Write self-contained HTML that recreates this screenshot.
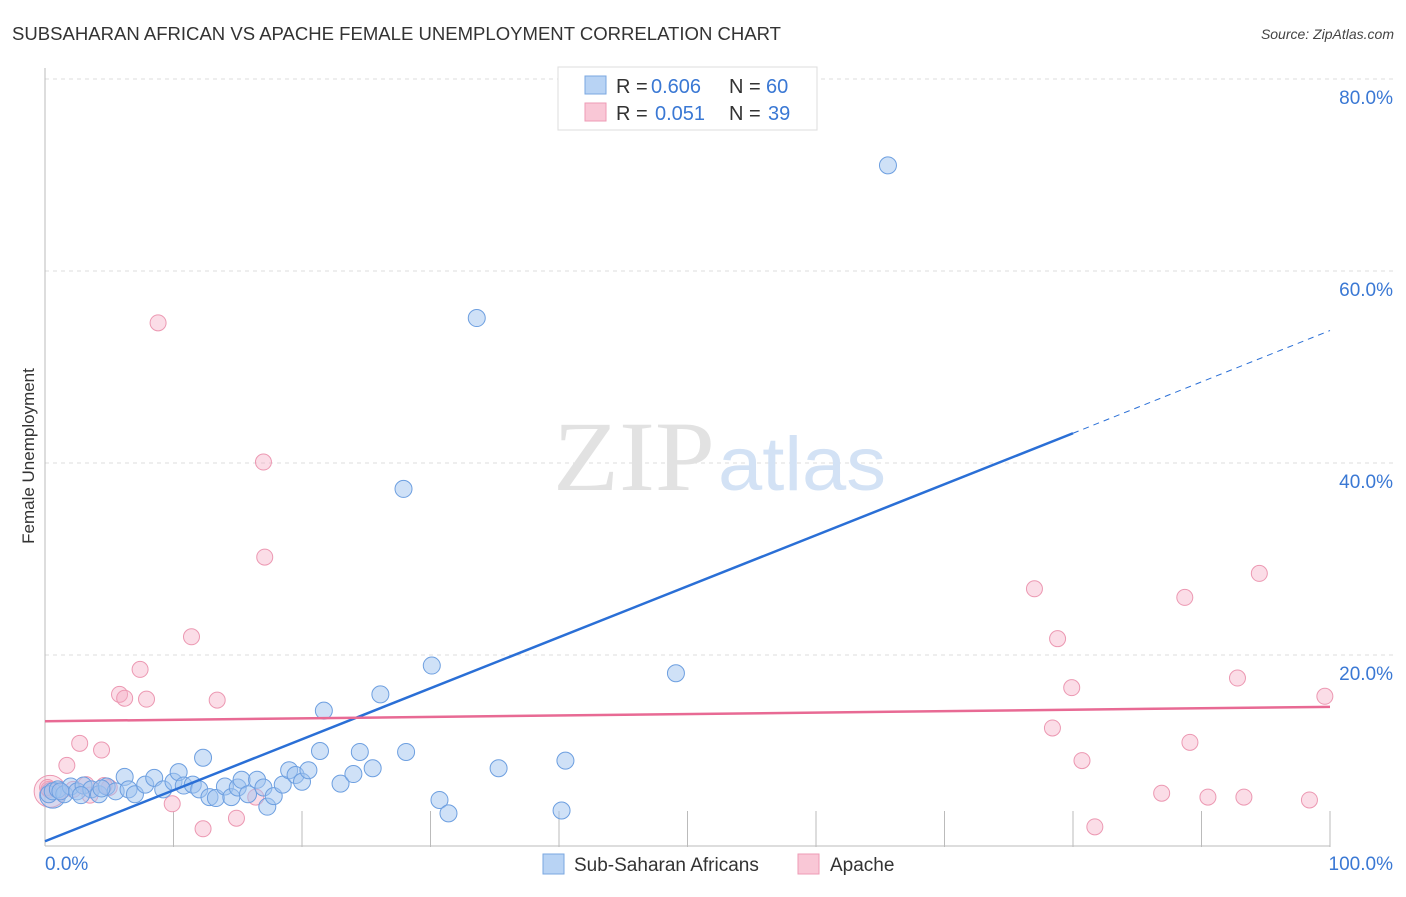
<!DOCTYPE html>
<html><head><meta charset="utf-8"><style>
body{margin:0;background:#fff;font-family:"Liberation Sans",sans-serif;}
svg text{font-family:"Liberation Sans",sans-serif;}
</style></head><body>
<svg width="1406" height="892" xmlns="http://www.w3.org/2000/svg">
<text x="12" y="40" font-size="18" fill="#333" textLength="769" lengthAdjust="spacingAndGlyphs">SUBSAHARAN AFRICAN VS APACHE FEMALE UNEMPLOYMENT CORRELATION CHART</text>
<text x="1394" y="39" font-size="14" font-style="italic" fill="#444" text-anchor="end">Source: ZipAtlas.com</text>
<g id="grid"></g>
<text x="553" y="490" font-size="100" fill="#e2e2e2" style="font-family:'Liberation Serif',serif" textLength="162" lengthAdjust="spacingAndGlyphs">ZIP</text>
<text x="718" y="490" font-size="76" fill="#d3e2f5" textLength="168" lengthAdjust="spacingAndGlyphs">atlas</text>
<line x1="45" y1="68" x2="45" y2="846" stroke="#bbb"/>
<line x1="45" y1="846" x2="1330" y2="846" stroke="#bbb"/>
<g id="xticks"></g>
<text x="34" y="456" font-size="17" fill="#333" transform="rotate(-90 34 456)" text-anchor="middle">Female Unemployment</text>
<text x="45" y="870" font-size="19" fill="#3a78d4">0.0%</text>
<text x="1393" y="870" font-size="19" fill="#3a78d4" text-anchor="end">100.0%</text>
<g id="pts"></g>
<g id="trends"></g>
<g>
<rect x="558" y="67" width="259" height="63" fill="#fff" stroke="#ddd"/>
<rect x="585" y="76" width="21" height="18" fill="#b8d3f4" stroke="#7aa7e0"/>
<rect x="585" y="103" width="21" height="18" fill="#f9c7d6" stroke="#ee9bb5"/>
<text x="616" y="93" font-size="20" fill="#333">R =</text>
<text x="651" y="93" font-size="20" fill="#3a78d4">0.606</text>
<text x="729" y="93" font-size="20" fill="#333">N =</text>
<text x="766" y="93" font-size="20" fill="#3a78d4">60</text>
<text x="616" y="120" font-size="20" fill="#333">R =</text>
<text x="655" y="120" font-size="20" fill="#3a78d4">0.051</text>
<text x="729" y="120" font-size="20" fill="#333">N =</text>
<text x="768" y="120" font-size="20" fill="#3a78d4">39</text>
</g>
<g>
<rect x="543" y="854" width="21" height="20" fill="#b8d3f4" stroke="#7aa7e0"/>
<text x="574" y="871" font-size="19" fill="#333">Sub-Saharan Africans</text>
<rect x="798" y="854" width="21" height="20" fill="#f9c7d6" stroke="#ee9bb5"/>
<text x="830" y="871" font-size="19" fill="#333">Apache</text>
</g>
</svg>
<script>
const yTicks=[20,40,60,80];
const yTickLabels=["20.0%","40.0%","60.0%","80.0%"];
const xTicks=[10,20,30,40,50,60,70,80,90,100];
const blueX=[65.6,33.6,27.9,30.1,49.1,26.1,21.7,28.1,24.5,21.4,40.5,35.3,25.5,12.3,30.7,31.4,40.2,0.3,0.6,1.0,1.5,2.0,2.5,3.0,3.6,4.2,4.8,5.5,6.2,6.5,7.0,7.8,8.5,9.2,10.0,10.4,10.8,11.5,12.0,12.8,13.3,14.0,14.5,15.0,15.3,15.8,16.5,17.0,17.3,17.8,18.5,19.0,19.5,20.0,20.5,23.0,24.0,1.2,2.8,4.4];
const blueY=[71,55.1,37.3,18.9,18.1,15.9,14.2,9.9,9.9,10,9,8.2,8.2,9.3,4.9,3.5,3.8,5.5,5.8,6,5.5,6.3,5.8,6.4,6,5.5,6.3,5.8,7.3,6,5.5,6.5,7.2,6,6.8,7.8,6.4,6.5,6,5.2,5.1,6.3,5.2,6.2,7,5.5,7,6.2,4.2,5.3,6.5,8,7.5,6.8,8,6.6,7.6,5.8,5.4,6.1];
const pinkX=[8.8,17,17.1,11.4,7.4,5.8,6.2,7.9,13.4,2.7,4.4,1.7,9.9,12.3,14.9,77,78.8,79.9,78.4,80.7,81.7,88.7,94.5,92.8,89.1,86.9,90.5,93.3,98.4,99.6,0.3,3.5,5,3.2,1.2,0.2,4.6,16.4,2.2];
const pinkY=[54.6,40.1,30.2,21.9,18.5,15.9,15.5,15.4,15.3,10.8,10.1,8.5,4.5,1.9,3,26.9,21.7,16.6,12.4,9,2.1,26,28.5,17.6,10.9,5.6,5.2,5.2,4.9,15.7,6,5.4,6.2,6.5,5.8,6.2,6.4,5.2,6];
const L=45,R=1330,T=79,B=847;
const sx=v=>L+(R-L)*v/100, sy=v=>B-(B-T)*v/80;
const NS='http://www.w3.org/2000/svg';
function mk(tag,a,parent){const e=document.createElementNS(NS,tag);for(const k in a)e.setAttribute(k,a[k]);document.getElementById(parent).appendChild(e);return e;}
yTicks.forEach((t,i)=>{
 const l=mk('line',{x1:L,x2:1395,y1:sy(t),y2:sy(t),stroke:'#ddd','stroke-dasharray':'4,4'},'grid');
 
 
 const tx=mk('text',{x:1393,y:sy(t)+25,'font-size':19,fill:'#3a78d4','text-anchor':'end'},'grid');
 tx.textContent=yTickLabels[i];
 
 
});
xTicks.forEach(t=>{
 const l=mk('line',{x1:sx(t),x2:sx(t),y1:B-36,y2:B,stroke:'#bbb'},'xticks');
 
 
});
let big=mk('circle',{cx:sx(0.4),cy:sy(5.8),r:16,fill:'rgba(246,170,195,0.3)',stroke:'#ec98b2','stroke-width':1},'pts');


big=mk('circle',{cx:sx(0.6),cy:sy(5.4),r:13,fill:'rgba(160,195,240,0.4)',stroke:'#6d9fe0','stroke-width':1},'pts');


pinkX.forEach((x,i)=>{
 const c=mk('circle',{cx:sx(x),cy:sy(pinkY[i]),r:8,fill:'rgba(246,170,195,0.4)',stroke:'#ec98b2','stroke-width':1},'pts');
 
 
});
blueX.forEach((x,i)=>{
 const c=mk('circle',{cx:sx(x),cy:sy(blueY[i]),r:8.5,fill:'rgba(160,195,240,0.5)',stroke:'#6d9fe0','stroke-width':1},'pts');
 
 
});
let e=mk('line',{x1:sx(0),y1:sy(0.6),x2:sx(80),y2:sy(43.1),stroke:'#2a6fd6','stroke-width':2.5},'trends');


e=mk('line',{x1:sx(80),y1:sy(43.1),x2:sx(100),y2:sy(53.8),stroke:'#2a6fd6','stroke-width':1,'stroke-dasharray':'6,5'},'trends');


e=mk('line',{x1:sx(0),y1:sy(13.1),x2:sx(100),y2:sy(14.6),stroke:'#e86a94','stroke-width':2.5},'trends');


</script>
</body></html>
